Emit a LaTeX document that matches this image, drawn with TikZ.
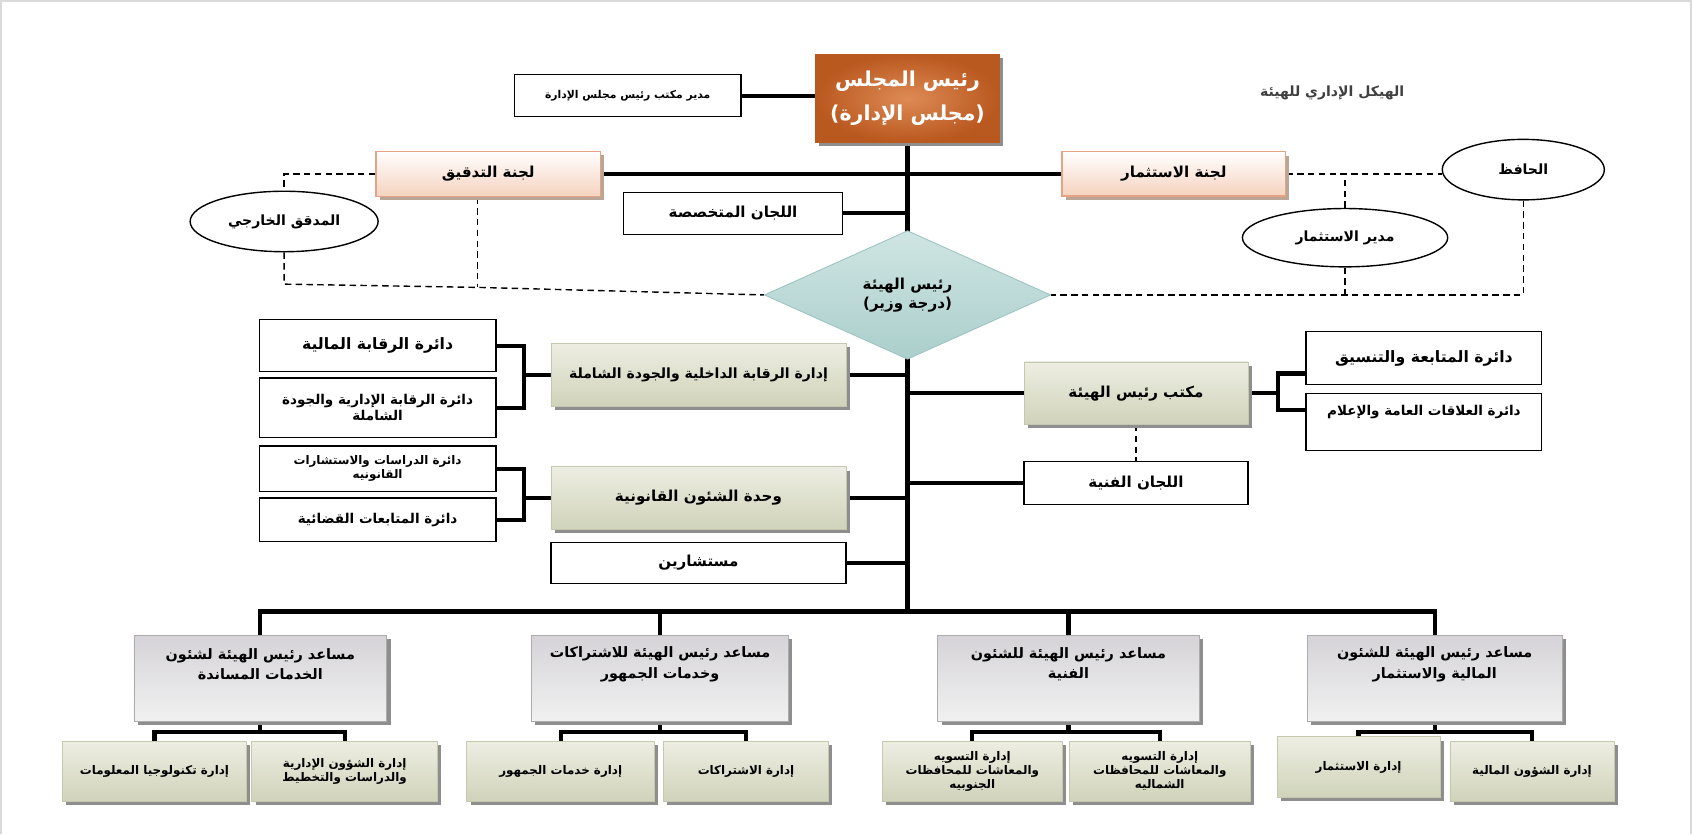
\documentclass[tikz,border=0pt]{standalone}
\usepackage{fontspec}
\usetikzlibrary{shapes.geometric,shadows,calc,backgrounds}
\TeXXeTstate=1
\newfontfamily\arabicfont[Script=Arabic]{DejaVu Sans}
\newcommand\ar[1]{\beginR #1\endR}
\definecolor{ORo}{HTML}{B9581F}
\definecolor{ORi}{HTML}{DE8A55}
\definecolor{PBd}{HTML}{E3A384}
\definecolor{PBb}{HTML}{F5D2BE}
\definecolor{PBs}{HTML}{B9A696}
\definecolor{GBt}{HTML}{EDEEE2}
\definecolor{GBb}{HTML}{D0D3BA}
\definecolor{GBd}{HTML}{C5C8AE}
\definecolor{YBt}{HTML}{D5D3D7}
\definecolor{YBb}{HTML}{F1F1F1}
\definecolor{YBd}{HTML}{ACACAC}
\definecolor{DMt}{HTML}{CFE5E3}
\definecolor{DMb}{HTML}{ABCFCC}
\definecolor{DMd}{HTML}{9CC3C1}
\definecolor{SHg}{HTML}{8E8E8E}
\definecolor{TitleC}{HTML}{404040}
\begin{document}
\begin{tikzpicture}[x=1pt,y=-1pt,
  f10/.style={font=\arabicfont\bfseries\fontsize{10}{13}\selectfont},
  f11/.style={font=\arabicfont\bfseries\fontsize{11}{13}\selectfont},
  f12/.style={font=\arabicfont\bfseries\fontsize{12.5}{15}\selectfont},
  f13/.style={font=\arabicfont\bfseries\fontsize{13}{16}\selectfont},
  f14/.style={font=\arabicfont\bfseries\fontsize{14}{18}\selectfont},
  f135/.style={font=\arabicfont\bfseries\fontsize{13.3}{19}\selectfont},
  f16/.style={font=\arabicfont\bfseries\fontsize{14.5}{19}\selectfont},
  f22/.style={font=\arabicfont\bfseries\fontsize{19}{32}\selectfont},
  shd/.style={drop shadow={shadow xshift=3.5pt,shadow yshift=-3.5pt,fill=#1,opacity=1}},
  wbox/.style={draw=black,line width=1.3pt,fill=white,inner sep=0pt,align=center},
  gbox/.style={draw=GBd,line width=0.6pt,top color=GBt,bottom color=GBb,inner sep=0pt,align=center,shd=SHg},
  pbox/.style={draw=PBd,line width=1.3pt,top color=white,bottom color=PBb,inner sep=0pt,align=center,shd=PBs},
  ybox/.style={draw=YBd,line width=0.6pt,top color=YBt,bottom color=YBb,inner sep=0pt,shd=SHg},
  chairbox/.style={draw=ORo,line width=0.8pt,inner color=ORi,outer color=ORo,inner sep=0pt,align=center,text=white,shd=SHg},
  ell/.style={ellipse,draw=black,line width=1.3pt,fill=white,inner sep=0pt},
  conn/.style={line width=3.9pt,black},
  dsh/.style={line width=1.3pt,black,dash pattern=on 6pt off 4pt},
  lbl/.style={align=center,inner sep=0pt}
]
\useasboundingbox (0,0) rectangle (1568,772);

% top
\node[chairbox,f22,minimum width=170pt,minimum height=82pt] (chair) at (840,91) {\ar{رئيس المجلس}\\\ar{(مجلس الإدارة)}};
\node[wbox,f10,minimum width=210pt,minimum height=39pt] (mgr) at (581,88.5) {\ar{مدير مكتب رئيس مجلس الإدارة}};
\node[f13,text=TitleC,lbl] (title) at (1233,86) {\ar{الهيكل الإداري للهيئة}};

\node[pbox,f14,minimum width=208pt,minimum height=42pt] (audit) at (452,161) {\ar{لجنة التدقيق}};
\node[pbox,f14,minimum width=207pt,minimum height=41pt] (invest) at (1086.5,161) {\ar{لجنة الاستثمار}};
\node[wbox,f14,minimum width=203pt,minimum height=39pt] (spec) at (678.5,197.5) {\ar{اللجان المتخصصة}};

\node[ell,f13,minimum width=174pt,minimum height=56pt] (extaud) at (263,205) {\ar{المدقق الخارجي}};
\node[ell,f13,minimum width=150pt,minimum height=56pt] (keeper) at (1410,157) {\ar{الحافظ}};
\node[ell,f13,minimum width=190pt,minimum height=54pt] (invmgr) at (1245,220) {\ar{مدير الاستثمار}};

\node[diamond,aspect=2.2,draw=DMd,line width=0.8pt,top color=DMt,bottom color=DMb,inner sep=0pt,
      minimum width=265pt,minimum height=119pt,align=center,f14] (dia) at (840,273) {\ar{رئيس الهيئة}\\\ar{(درجة وزير)}};

% left middle
\node[wbox,f16,minimum width=219pt,minimum height=48pt] (finctrl) at (349.5,320) {\ar{دائرة الرقابة المالية}};
\node[wbox,f12,minimum width=219pt,minimum height=55pt] (admctrl) at (349.5,377.5) {\ar{دائرة الرقابة الإدارية والجودة}\\\ar{الشاملة}};
\node[gbox,f13,minimum width=273pt,minimum height=58pt] (intctrl) at (646.5,347) {\ar{إدارة الرقابة الداخلية والجودة الشاملة}};
\node[wbox,f11,minimum width=219pt,minimum height=42pt] (legalstudy) at (349.5,434) {\ar{دائرة الدراسات والاستشارات}\\\ar{القانونيه}};
\node[wbox,f12,minimum width=219pt,minimum height=40pt] (judicial) at (349.5,481) {\ar{دائرة المتابعات القضائية}};
\node[gbox,f14,minimum width=273pt,minimum height=58pt] (legalu) at (646.5,461) {\ar{وحدة الشئون القانونية}};
\node[wbox,f14,minimum width=273pt,minimum height=38pt] (advisors) at (646.5,521) {\ar{مستشارين}};

% right middle
\node[gbox,f14,minimum width=207pt,minimum height=58pt] (office) at (1051.5,364) {\ar{مكتب رئيس الهيئة}};
\node[wbox,f16,minimum width=218pt,minimum height=49pt] (follow) at (1318,331.5) {\ar{دائرة المتابعة والتنسيق}};
\node[wbox,minimum width=218pt,minimum height=53pt] (pr) at (1318,390.5) {};
\node[lbl,f12] (prt) at (1318,381) {\ar{دائرة العلاقات العامة والإعلام}};
\node[wbox,f14,minimum width=207pt,minimum height=40pt] (techcom) at (1051.5,447) {\ar{اللجان الفنية}};

% bottom assistants
\node[ybox,minimum width=234pt,minimum height=80pt] (B1) at (241,628) {};
\node[ybox,minimum width=238pt,minimum height=80pt] (B2) at (611,628) {};
\node[ybox,minimum width=242pt,minimum height=80pt] (B3) at (989,628) {};
\node[ybox,minimum width=236pt,minimum height=80pt] (B4) at (1328,628) {};
\node[lbl,f135] (t1) at (241,615) {\ar{مساعد رئيس الهيئة لشئون}\\\ar{الخدمات المساندة}};
\node[lbl,f135] (t2) at (611,615) {\ar{مساعد رئيس الهيئة  للاشتراكات}\\\ar{وخدمات الجمهور}};
\node[lbl,f135] (t3) at (989,615) {\ar{مساعد رئيس الهيئة للشئون}\\\ar{الفنية}};
\node[lbl,f135] (t4) at (1328,615) {\ar{مساعد رئيس الهيئة للشئون}\\\ar{المالية والاستثمار}};

% sub departments
\node[gbox,f11,minimum width=170pt,minimum height=56pt] (S1a) at (143,714) {\ar{إدارة تكنولوجيا المعلومات}};
\node[gbox,f11,minimum width=172pt,minimum height=56pt] (S1b) at (319,714) {\ar{إدارة الشؤون الإدارية}\\\ar{والدراسات والتخطيط}};
\node[gbox,f11,minimum width=174pt,minimum height=56pt] (S2a) at (519,714) {\ar{إدارة خدمات الجمهور}};
\node[gbox,f11,minimum width=153pt,minimum height=56pt] (S2b) at (690.5,714) {\ar{إدارة الاشتراكات}};
\node[gbox,f11,minimum width=166pt,minimum height=56pt] (S3a) at (900,714) {\ar{إدارة التسويه}\\\ar{والمعاشات للمحافظات}\\\ar{الجنوبيه}};
\node[gbox,f11,minimum width=167pt,minimum height=56pt] (S3b) at (1073.5,714) {\ar{إدارة التسويه}\\\ar{والمعاشات للمحافظات}\\\ar{الشماليه}};
\node[gbox,f11,minimum width=151pt,minimum height=56pt] (S4a) at (1257.5,710) {\ar{إدارة الاستثمار}};
\node[gbox,f11,minimum width=152pt,minimum height=56pt] (S4b) at (1418,714) {\ar{إدارة الشؤون المالية}};

\coordinate (busY) at (0,566);
\coordinate (brkL) at (485,0);
\coordinate (brkR) at (1183,0);
\coordinate (dA) at (263,263);
\coordinate (dB) at (442,266);
\coordinate (fa) at ($(follow.south west)+(0,-11)$);
\coordinate (pa) at ($(pr.north west)+(0,16)$);

\begin{scope}[on background layer]
  \fill[white] (0,0) rectangle (1568,772);
  \draw[line width=1.5pt,gray!30] (0.75,772) -- (0.75,0.75) -- (1565,0.75) -- (1565,772);
  % solid connectors
  \draw[conn] (mgr.east) -- (mgr.east -| chair.west);
  \draw[conn] (chair.south) -- (chair.south |- busY);
  \draw[conn] (audit.east) -- (invest.west);
  \draw[conn] (spec.east) -- (spec.east -| chair.south);
  \draw[conn] (finctrl.east) -| (brkL |- admctrl.east) -- (admctrl.east);
  \draw[conn] (intctrl.west) -- (intctrl.west -| brkL);
  \draw[conn] (intctrl.east) -- (intctrl.east -| chair.south);
  \draw[conn] (legalstudy.east) -| (brkL |- judicial.east) -- (judicial.east);
  \draw[conn] (legalu.west) -- (legalu.west -| brkL);
  \draw[conn] (legalu.east) -- (legalu.east -| chair.south);
  \draw[conn] (advisors.east) -- (advisors.east -| chair.south);
  \draw[conn] (office.west) -- (office.west -| chair.south);
  \draw[conn] (office.east) -- (office.east -| brkR);
  \draw[conn] (fa) -| (brkR |- pa) -- (pa);
  \draw[conn] (techcom.west) -- (techcom.west -| chair.south);
  \draw[conn] (B1.north) -- (B1.north |- busY) -- (B4.north |- busY) -- (B4.north);
  \draw[conn] (B2.north) -- (B2.north |- busY);
  \draw[conn] (B3.north) -- (B3.north |- busY);
  \draw[conn] (B1.south) -- ++(0,9) -| (S1a.north);
  \draw[conn] (B1.south) -- ++(0,9) -| (S1b.north);
  \draw[conn] (B2.south) -- ++(0,9) -| (S2a.north);
  \draw[conn] (B2.south) -- ++(0,9) -| (S2b.north);
  \draw[conn] (B3.south) -- ++(0,9) -| (S3a.north);
  \draw[conn] (B3.south) -- ++(0,9) -| (S3b.north);
  \draw[conn] (B4.south) -- ++(0,9) -| (S4a.north);
  \draw[conn] (B4.south) -- ++(0,9) -| (S4b.north);
  % dashed connectors
  \draw[dsh] (audit.west) -| (extaud.north);
  \draw[dsh] (extaud.south) -- (dA) -- (dB) -- (dia.west);
  \draw[dsh] ([xshift=-10pt]audit.south) -- (dB);
  \draw[dsh] (invest.east) -- (invest.east -| keeper.west);
  \draw[dsh] (invmgr.north) -- (invmgr.north |- invest.east);
  \draw[dsh] (invmgr.south) -- (invmgr.south |- dia.east);
  \draw[dsh] (keeper.south) |- (dia.east);
  \draw[dsh] (office.south) -- (techcom.north);
\end{scope}
\end{tikzpicture}
\end{document}
